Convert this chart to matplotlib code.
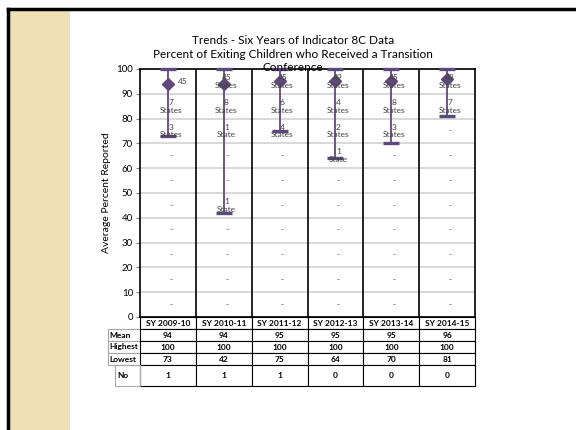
import matplotlib.pyplot as plt
import numpy as np
from matplotlib.patches import Rectangle
from matplotlib.lines import Line2D

years = ['SY 2009-10', 'SY 2010-11', 'SY 2011-12', 'SY 2012-13', 'SY 2013-14', 'SY 2014-15']
mean = [94, 94, 95, 95, 95, 96]
highest = [100, 100, 100, 100, 100, 100]
lowest = [73, 42, 75, 64, 70, 81]
no_data = [1, 1, 1, 0, 0, 0]
# number of states in each 10-point band, from 90-100 down to 0-10
state_counts = [
    [45, 7, 3, 0, 0, 0, 0, 0, 0, 0],
    [45, 8, 1, 0, 0, 1, 0, 0, 0, 0],
    [45, 6, 4, 0, 0, 0, 0, 0, 0, 0],
    [49, 4, 2, 1, 0, 0, 0, 0, 0, 0],
    [45, 8, 3, 0, 0, 0, 0, 0, 0, 0],
    [49, 7, 0, 0, 0, 0, 0, 0, 0, 0],
]
band_mid = [95, 85, 75, 65, 55, 45, 35, 25, 15, 5]

purple = '#5F497A'
plt.rcParams['font.family'] = ['Lato', 'DejaVu Sans']

fig = plt.figure(figsize=(5.76, 4.30), dpi=100)

# slide decoration
fig.add_artist(Rectangle((10 / 576, 0), 60 / 576, 1 - 10 / 430, transform=fig.transFigure,
                         facecolor='#F0E0B6', edgecolor='none'))
fig.add_artist(Line2D([8 / 576, 1], [1 - 9 / 430, 1 - 9 / 430], transform=fig.transFigure,
                      color='black', lw=2.5))
fig.add_artist(Line2D([8 / 576, 8 / 576], [0, 1 - 9 / 430], transform=fig.transFigure,
                      color='black', lw=2.5))

ax_w, ax_h = 335, 248
ax = fig.add_axes([140 / 576, 113 / 430, ax_w / 576, ax_h / 430])
x = np.arange(len(years))

ax.set_ylim(0, 100)
ax.set_xlim(-0.5, len(years) - 0.5)
ax.set_yticks(range(0, 101, 10))
ax.set_xticks([])
ax.yaxis.grid(True, color='#D9D9D9', lw=1.5)
ax.set_axisbelow(True)
ax.tick_params(axis='y', labelsize=7, length=3, color='#808080', pad=2)
for s in ax.spines.values():
    s.set_color('black')
    s.set_linewidth(1.2)
for xv in x[:-1] + 0.5:
    ax.axvline(xv, color='black', lw=1.2)

yerr = [np.array(mean) - np.array(lowest), np.array(highest) - np.array(mean)]
ax.errorbar(x, mean, yerr=yerr, fmt='D', color=purple, ms=6, elinewidth=1.3,
            capsize=5.5, capthick=2.4, zorder=5, clip_on=False)

for i, counts in enumerate(state_counts):
    for j, c in enumerate(counts):
        if i == 0 and j == 0:
            ax.text(x[i] + 0.27, band_mid[j], str(c), fontsize=6, color='#404040',
                    ha='center', va='center')
            continue
        if c == 0:
            label = '-'
        elif c == 1:
            label = '1\nState'
        else:
            label = f'{c}\nStates'
        ax.text(x[i] + 0.05, band_mid[j], label, fontsize=6, color='#404040',
                ha='center', va='center', linespacing=1.15, zorder=6)

ax.set_ylabel('Average Percent Reported', fontsize=7.5, labelpad=4)

fig.text(293 / 576, 1 - 35 / 430,
         'Trends - Six Years of Indicator 8C Data\n'
         'Percent of Exiting Children who Received a Transition\nConference',
         ha='center', va='top', fontsize=8.5, linespacing=1.3, zorder=10)

cell_text = [[str(v) for v in mean], [str(v) for v in highest],
             [str(v) for v in lowest], [str(v) for v in no_data]]
row_labels = ['Mean', 'Highest', 'Lowest', 'No']
lab_w = 32
tbl_h = 69
row_px = [12, 12, 12, 12, 21]
tbl = ax.table(cellText=cell_text, rowLabels=row_labels, colLabels=years,
               cellLoc='center', rowLoc='left', colWidths=[1 / 6] * 6,
               bbox=[0, -tbl_h / ax_h, 1, tbl_h / ax_h])
tbl._autoColumns = []
tbl.auto_set_font_size(False)
tbl.set_fontsize(6)
for (r, c), cell in tbl.get_celld().items():
    cell.get_text().set_fontweight('bold')
    cell.set_linewidth(0.8)
    cell.set_height(row_px[r] / ax_h)
    if c == -1:
        cell.set_width(lab_w / ax_w)
        cell.set_edgecolor('#A6A6A6')
        cell.PAD = 0.05
        if r == 4:
            cell.PAD = 0.3
            cell.visible_edges = 'open'
    else:
        cell.set_edgecolor('black')

# narrower box around the "No" label, as in the original
ax.add_patch(Rectangle((-25 / ax_w, -tbl_h / ax_h), 25 / ax_w, row_px[4] / ax_h,
                       transform=ax.transAxes, fill=False, edgecolor='#A6A6A6',
                       lw=0.8, clip_on=False))

fig.savefig('out.png', dpi=100)
